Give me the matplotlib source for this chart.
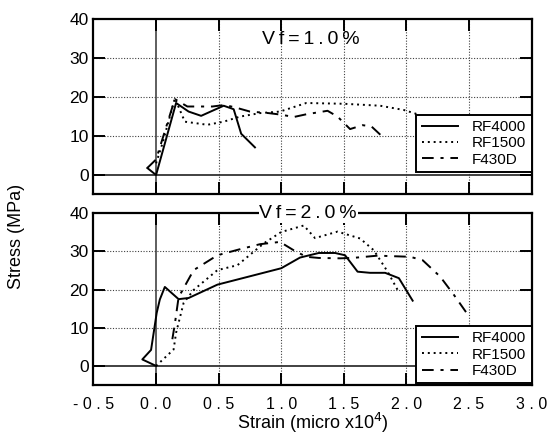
"""
Stress-strain curves for two fibre volume fractions (Vf=1.0% and Vf=2.0%).
"""

import matplotlib
matplotlib.use("Agg")
import matplotlib.pyplot as plt

plt.rcParams["font.family"] = ["Liberation Sans", "DejaVu Sans"]

# --- data (strain in micro x10^4, stress in MPa) ---
SERIES = ["RF4000", "RF1500", "F430D"]

top_rf4000_x = [-0.07, 0.0, 0.16, 0.26, 0.36, 0.54, 0.62, 0.68, 0.79]
top_rf4000_y = [1.8, 0.0, 18.5, 16.3, 15.2, 17.8, 16.9, 10.6, 7.1]

top_rf1500_x = [0.0, 0.05, 0.15, 0.23, 0.41, 0.54, 0.67, 0.83, 0.99, 1.2, 1.5, 1.79, 1.98, 2.1]
top_rf1500_y = [3.0, 8.0, 19.7, 13.7, 12.9, 13.7, 15.0, 15.9, 16.3, 18.5, 18.3, 17.8, 16.7, 15.5]

top_f430d_x = [-0.07, 0.0, 0.15, 0.25, 0.45, 0.55, 0.65, 0.75, 0.9, 1.0, 1.1, 1.2,
               1.37, 1.45, 1.55, 1.65, 1.72, 1.82]
top_f430d_y = [1.8, 4.0, 19.5, 17.6, 17.6, 18.0, 17.2, 16.3, 15.9, 15.5, 14.9, 15.6,
               16.5, 15.0, 11.8, 12.8, 12.5, 9.5]

bot_rf4000_x = [0.0, -0.11, -0.04, 0.005, 0.03, 0.07, 0.18, 0.26, 0.49, 1.0, 1.15, 1.3,
                1.43, 1.51, 1.61, 1.71, 1.83, 1.94, 2.05]
bot_rf4000_y = [0.0, 1.7, 4.2, 13.9, 17.4, 20.7, 17.5, 17.8, 21.3, 25.6, 28.4, 29.6,
                29.6, 29.0, 24.7, 24.4, 24.4, 23.0, 17.1]

bot_rf1500_x = [0.0, 0.14, 0.16, 0.22, 0.3, 0.49, 0.65, 0.86, 1.0, 1.18, 1.27, 1.45,
                1.63, 1.74, 1.85, 1.93]
bot_rf1500_y = [0.0, 4.3, 8.7, 16.5, 19.9, 25.1, 26.4, 32.1, 35.1, 36.8, 33.5, 35.2,
                33.4, 30.3, 24.7, 19.9]

bot_f430d_x = [0.13, 0.15, 0.18, 0.3, 0.49, 0.66, 0.83, 0.99, 1.1, 1.2, 1.3, 1.47,
               1.57, 1.77, 2.03, 2.13, 2.27, 2.38, 2.5]
bot_f430d_y = [7.0, 11.0, 18.0, 25.1, 29.0, 30.5, 31.9, 32.5, 30.3, 28.6, 28.3, 28.2,
               28.3, 28.9, 28.6, 27.7, 23.4, 18.6, 13.0]

THIN = "\u2009"
panel_titles = [THIN.join("Vf=1.0%"), THIN.join("Vf=2.0%")]
x_ticks = [-0.5, 0.0, 0.5, 1.0, 1.5, 2.0, 2.5, 3.0]
x_tick_labels = ["- 0 . 5", "0 . 0", "0 . 5", "1 . 0", "1 . 5", "2 . 0", "2 . 5", "3 . 0"]
y_ticks = [0, 10, 20, 30, 40]

STYLES = {
    "RF4000": dict(linestyle="-"),
    "RF1500": dict(linestyle=(0, (1, 2))),
    "F430D": dict(linestyle=(0, (6, 3.5, 1.6, 3.5))),
}


def style_axes(ax):
    ax.set_xlim(-0.5, 3.0)
    ax.set_ylim(-5, 40)
    ax.set_xticks(x_ticks)
    ax.set_yticks(y_ticks)
    ax.tick_params(direction="in", length=8.5, width=1.4, top=True, right=True,
                   labelsize=12.5)
    for sp in ax.spines.values():
        sp.set_linewidth(1.6)
    for xv in x_ticks[2:-1]:
        ax.axvline(xv, color="0.25", lw=0.8, ls=(0, (1, 1.5)), zorder=0)
    for yv in y_ticks[1:-1]:
        ax.axhline(yv, color="0.25", lw=0.8, ls=(0, (1, 1.5)), zorder=0)
    ax.axvline(0, color="0.2", lw=1.1, zorder=0)
    ax.axhline(0, color="0.2", lw=1.3, zorder=0)


def draw_panel(ax, data, legend_anchor):
    style_axes(ax)
    for name, (xs, ys) in zip(SERIES, data):
        ax.plot(xs, ys, color="black", lw=1.4, label=name, **STYLES[name])
    leg = ax.legend(loc="lower right", bbox_to_anchor=legend_anchor, fontsize=11,
                    frameon=True, fancybox=False, edgecolor="black", framealpha=1,
                    borderaxespad=0, handlelength=2.4, labelspacing=0.15,
                    borderpad=0.35, handletextpad=0.9)
    leg.get_frame().set_linewidth(1.4)
    return leg


fig = plt.figure(figsize=(5.48, 4.37), dpi=100)
ax_top = fig.add_axes([0.1706, 0.555, 0.7994, 0.4008])
ax_bot = fig.add_axes([0.1706, 0.119, 0.7994, 0.3929])

draw_panel(ax_top, [(top_rf4000_x, top_rf4000_y), (top_rf1500_x, top_rf1500_y),
                    (top_f430d_x, top_f430d_y)], (1.0, 0.129))
ax_top.tick_params(labelbottom=False)
ax_top.text(0.495, 0.885, panel_titles[0], transform=ax_top.transAxes, ha="center",
            va="center", fontsize=14)

draw_panel(ax_bot, [(bot_rf4000_x, bot_rf4000_y), (bot_rf1500_x, bot_rf1500_y),
                    (bot_f430d_x, bot_f430d_y)], (1.0, 0.01))
ax_bot.set_xticklabels(x_tick_labels, fontsize=11.5)
ax_bot.tick_params(axis="x", pad=9)
ax_bot.text(0.49, 1.0, panel_titles[1], transform=ax_bot.transAxes, ha="center",
            va="center", fontsize=14, zorder=10,
            bbox=dict(facecolor="white", edgecolor="none", pad=0.5))
ax_bot.set_xlabel("Strain (micro x10$^4$)", fontsize=13, labelpad=-1)

fig.text(0.03, 0.46, "Stress (MPa)", rotation=90, ha="center", va="center", fontsize=13)

fig.savefig("out.png", dpi=100)
